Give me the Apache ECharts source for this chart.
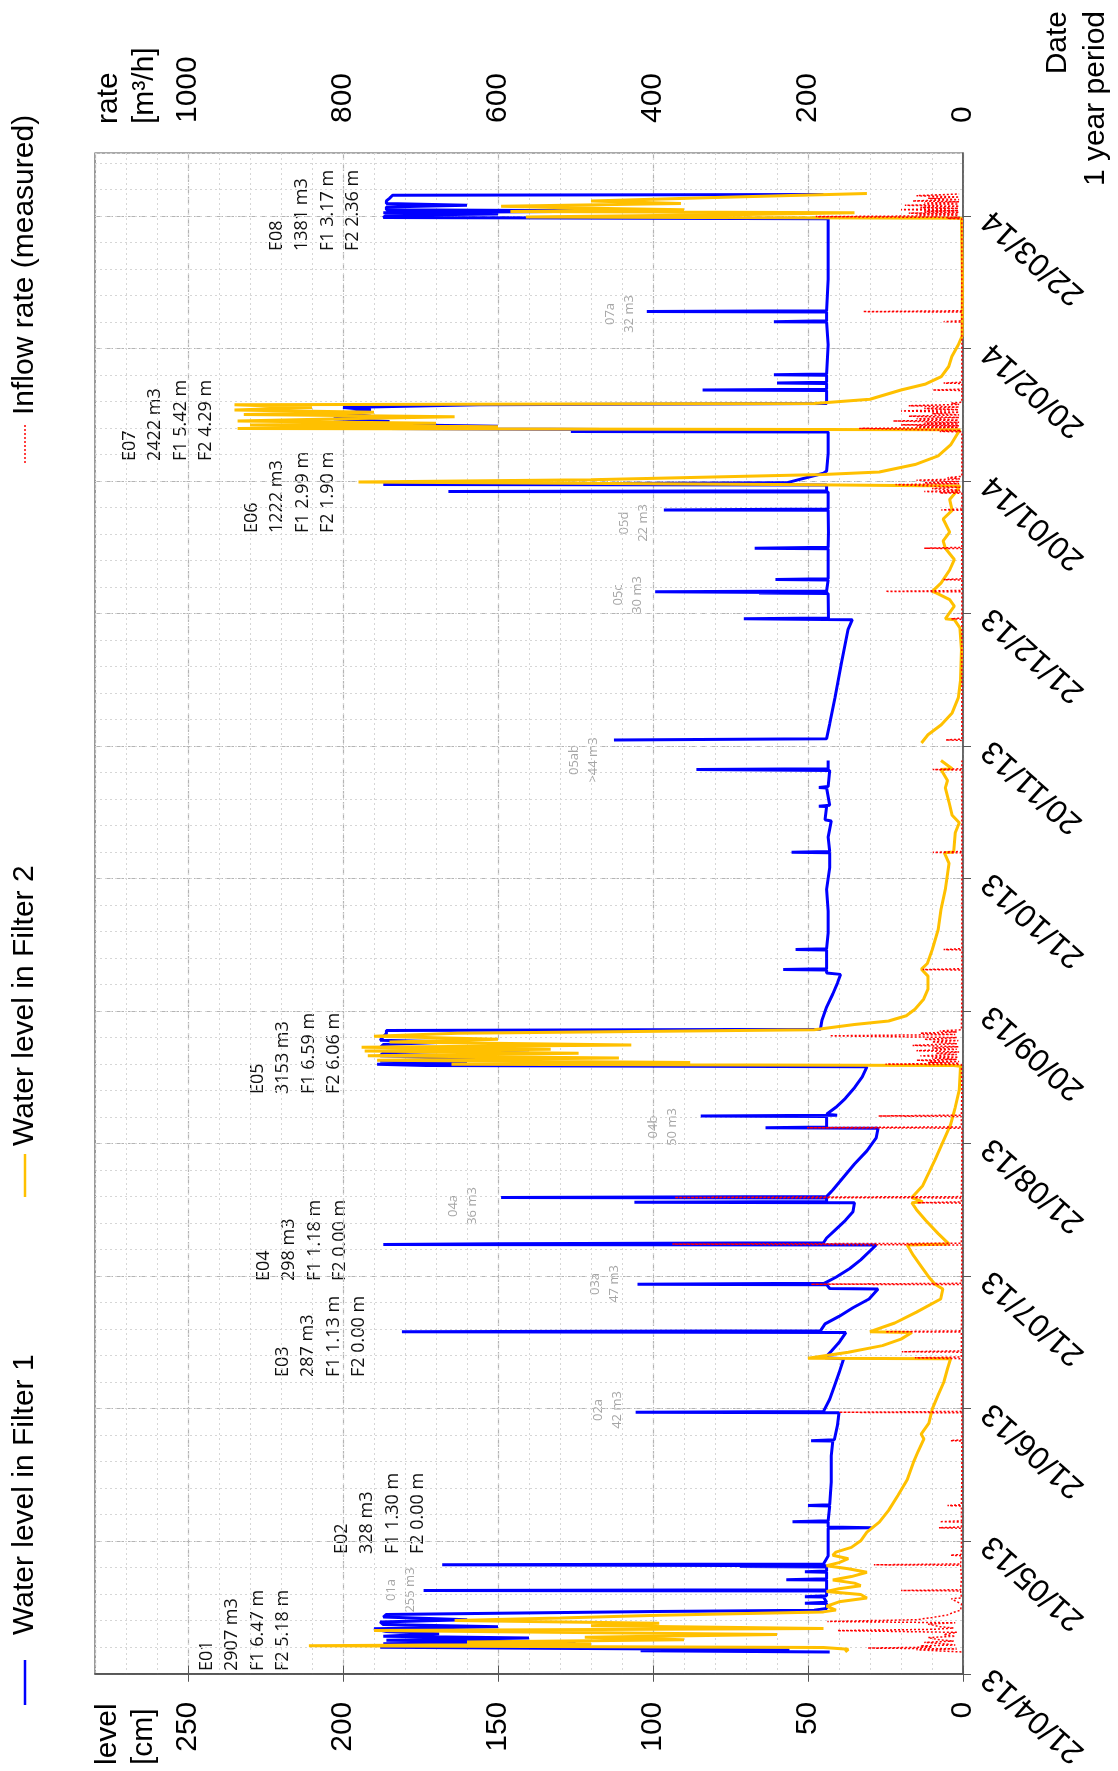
<!DOCTYPE html>
<html>
<head>
<meta charset="utf-8">
<title>Water level in filters</title>
<script src="https://cdn.jsdelivr.net/npm/echarts@6/dist/echarts.min.js"></script>
<style>
  html, body { margin: 0; padding: 0; background: #fff; }
  #chart { width: 1118px; height: 1771px; }
</style>
</head>
<body>
<div id="chart"></div>
<script>
// time in days from 21/04/13, levels in cm, inflow in m3/h
var dateLabels = ['21/04/13', '21/05/13', '21/06/13', '21/07/13', '21/08/13', '20/09/13',
  '21/10/13', '20/11/13', '21/12/13', '20/01/14', '20/02/14', '22/03/14'];
var monthStep = 365 / 12;
var dayMax = 349;

// [day, level]
var f1Level = [
  [5.0,43],[5.3,104],[5.5,56],[6.1,188],[6.5,150],[6.9,187],[7.3,125],[7.7,186],[8.2,140],[8.6,187],
  [9.2,169],[9.7,186],[10.3,190],[10.8,150],[11.3,187],[11.9,188],[12.4,160],[13.0,187],[13.6,186],[14.3,99],
  [14.6,48],[15.0,44],[16.1,44],[16.2,51],[16.4,44],[17.6,45],[17.7,51],[17.9,44],[19.0,44],[19.1,174],
  [19.3,44],[21.5,44],[21.6,57],[21.8,44],[23.3,44],[23.4,51],[23.6,44],[24.5,44],[24.6,72],[24.8,44],
  [25.0,168],[25.2,45],[27.0,43.5],[30.0,43.5],[33.4,43.5],[33.5,29.5],[33.7,43.5],[34.8,43.5],[34.9,55],[35.1,43.5],
  [38.5,43],[38.6,50],[38.8,43],[44,42.5],[50,42.5],[53.4,42],[53.5,49],[53.7,41.5],[57,40.5],[59.9,40],
  [60.0,105.6],[60.2,45],[63,43],[66,41.5],[69,40],[72.3,38.5],[72.5,44.5],[74,42.5],[76,40],[78.3,37.8],
  [78.5,181],[78.7,46],[80.3,44.5],[82,40],[84,35.5],[86,30.3],[88.3,27.4],[88.4,43],[89.3,44],[89.4,105],
  [89.6,44.8],[91,41],[93,36.5],[95,33],[98.4,28],[98.5,187],[98.7,150],[98.9,45],[100,44],[102,41],
  [104,38],[106,35.5],[108.1,35],[108.2,106],[108.4,44],[109.2,44],[109.3,149],[109.5,44],[111,42],[114,38.5],
  [117,35],[120,31],[123,28],[125.2,27.4],[125.3,63.7],[125.5,44],[127.9,44],[128.0,84.6],[128.2,40.6],[128.4,44],
  [130,41],[132,38],[134.5,35],[137,32.5],[139.3,31],[139.6,173],[139.9,189],[140.3,160],[140.6,188],[141.3,150],
  [141.8,188],[142.5,187],[143.2,140],[143.7,188],[144.4,187],[145.0,165],[145.4,188],[146.2,187],[146.9,186],[147.6,186],
  [147.9,46],[150,45.5],[153,44],[156,42],[158.5,40.5],[160.5,39.5],[160.8,44],[161.5,44],[161.6,58],[161.8,44],
  [166.1,44],[166.2,54],[166.4,44],[170,43.5],[175,43.5],[180,44],[185,43],[188.4,43],[188.5,55.3],[188.7,43],
  [192,43.5],[195.7,42.5],[196,44.5],[199,44],[199.1,46.5],[199.3,43],[203.3,44],[203.4,46.5],[203.6,43.5],[207.3,43],
  [207.5,86],[207.7,43.5],[209.6,43.5],[211,null],[214.3,112.6],[214.6,44],[218,43],[224,41.3],[232,39.2],[239.6,37.1],
  [241.9,35.7],[242.1,70.7],[242.3,43.4],[247.9,43.5],[248.0,65.8],[248.1,43.5],[248.3,99.3],[248.5,44],[251.0,43.5],[251.1,60.5],
  [251.3,43.5],[255,43.5],[258.2,43.5],[258.3,67.2],[258.5,43.5],[262,43.4],[267.0,43.5],[267.1,96.5],[267.3,43.5],[271.2,43.5],
  [271.3,166],[271.5,44],[272.8,44],[272.9,187],[273.3,57],[275.5,45],[276,44],[280,43.5],[285.0,43.5],[285.1,126.5],
  [285.3,45],[285.6,45],[285.8,186],[286.3,150],[286.8,200],[287.4,185],[288.0,203],[288.6,191],[289.3,200],[290.0,191],
  [290.6,200],[291.2,156],[291.5,44],[294.5,44],[294.6,84],[294.8,44],[296.1,44],[296.2,60],[296.4,44],[298.0,44],
  [298.1,61],[298.3,44],[305,43.5],[310.2,44],[310.3,61],[310.5,44],[312.5,44],[312.6,102],[312.8,44],[320,43.5],
  [333.9,43.5],[334.2,187],[334.7,186],[335.0,150],[335.3,187],[335.7,109],[336.0,186],[336.6,186],[337.0,160],[337.4,186],
  [338.0,186],[338.6,185],[339.3,184],[339.5,45]
];

var f2Level = [
  [5.0,38],[5.6,37],[6.0,45],[6.4,211],[6.8,120],[7.3,160],[7.8,90],[8.4,122],[9.0,60],[9.9,190],
  [10.4,45],[11.0,120],[11.6,98],[12.2,164],[12.8,130],[13.4,98],[14.2,45],[14.6,41],[15.5,44],[16.5,40],
  [17.4,31],[18.2,33],[18.9,44],[19.5,40],[20.2,33],[20.8,35],[21.5,42],[22.3,36],[23.3,31],[24.1,37],
  [24.8,44],[25.5,40],[26.4,37],[27.2,42],[27.9,41],[29,36],[30.5,33],[32.5,31],[34.8,27],[37.5,24],
  [40.9,21],[44.5,18],[48.5,16],[51,14.5],[53.9,12.6],[55,13.5],[57.5,11],[60.8,9.9],[64,8],[66.9,6.2],
  [70,5],[72.3,4],[72.4,50],[73.8,37],[75.3,26],[76.8,20],[78.3,16.5],[78.5,30],[80.5,22],[83,15],
  [86,7.2],[88.3,6.5],[89.4,9],[91,11],[93.5,13.5],[96,16],[98.4,18],[98.6,4.5],[101,8],[104,12],
  [106.5,15],[108.1,16.5],[108.3,13],[109.3,16.5],[112,13],[115,11],[118,9],[122,6.5],[126,4],[130,2.5],
  [134,1.2],[139.4,0.8],[139.6,3],[139.9,165],[140.3,88],[140.8,189],[141.3,111],[141.8,192],[142.4,124],[142.9,193],
  [143.3,133],[143.8,194],[144.3,107],[145.0,185],[145.6,150],[146.3,190],[147.0,163],[147.8,48],[149,35],[149.8,24],
  [151,18.3],[152.5,15.5],[154.8,12.7],[157.1,11.3],[160.1,11.3],[161.7,13.4],[163,11.5],[166.2,9.9],[170.8,8],[175.4,7.1],
  [180,5.7],[186,4.5],[188.4,6],[188.6,3],[193,2.5],[195.3,1.2],[197,3.5],[200,4.5],[203.3,5.7],[205,5],
  [207.5,7.1],[207.7,3.5],[209.6,7.1],[211,null],[213.6,13.4],[215.5,11.3],[217.8,7],[220.5,3.5],[224,1.5],[228,0.8],
  [235,0.5],[240,1],[241.9,2.8],[242.1,5.7],[243.5,4.3],[245,2.8],[246.5,4.3],[248,8.5],[248.4,9.9],[250.3,7.1],
  [253.3,4.3],[255.7,2.8],[258.3,5.7],[260,6.4],[262,4.3],[265,6.4],[267,3.5],[269.5,4.3],[271,2.5],[272.6,1],
  [272.9,60],[273.5,195],[274.0,120],[275.2,45],[275.8,27],[277.5,15.5],[279.5,8],[282,4],[285.5,1],[285.8,234],
  [286.2,150],[286.6,230],[287.0,170],[287.5,234],[288,200],[288.5,164],[289,232],[289.5,190],[290,235],[290.6,210],
  [291.2,235],[291.5,48],[292.5,30],[294.6,20],[296,12],[297.7,7],[300,4.6],[302.3,3.6],[305,1.5],[307,0.3],
  [320,0.2],[334.0,0.5],[334.3,141],[334.9,70],[335.3,35],[335.6,146],[336.0,90],[336.4,125],[336.8,149],[337.4,91],
  [338.0,120],[338.8,80],[339.7,31]
];

// [day, rate]
var inflowRate = [
  [5.0,2],[5.5,60],[5.7,8],[5.9,123],[6.1,40],[6.4,55],[6.6,10],[6.8,20],[7.2,50],[7.5,12],
  [7.8,30],[8.3,45],[8.6,10],[9.0,25],[9.5,8],[9.9,162],[10.2,37],[10.5,12],[10.8,30],[11.4,45],
  [11.7,10],[12.0,175],[12.4,60],[12.9,40],[13.5,20],[14.1,12],[14.6,3],[16.0,2],[17.2,15],[17.4,2],
  [19.0,3],[19.1,80],[19.3,3],[22,2],[24.9,3],[25.0,115],[25.2,3],[27.1,2],[27.2,16],[27.4,2],
  [33.4,2],[33.5,31],[33.7,2],[34.8,2],[34.9,30],[35.1,2],[38.5,2],[38.6,20],[38.8,2],[45,1.5],
  [53.4,1.5],[53.5,16],[53.7,1.5],[59.9,1.5],[60.0,160],[60.2,2],[66,1.5],[72.3,1.5],[72.5,62],[72.7,2],
  [73.8,2],[73.9,79],[74.1,2],[78.4,2],[78.5,100],[78.7,2],[84,1.5],[89.3,1.5],[89.4,196],[89.6,2],
  [95,1.5],[98.4,1.5],[98.6,375],[98.8,2],[108.0,1.5],[108.1,59],[108.3,2],[109.2,2],[109.3,372],[109.5,2],
  [117,1.5],[125.2,1.5],[125.3,201],[125.5,2],[127.9,2],[128.0,109],[128.2,2],[134,1.5],[139.8,2],[139.9,100],
  [140.1,5],[140.3,45],[140.5,5],[140.8,60],[141.0,8],[141.3,40],[141.5,6],[141.8,55],[142.1,8],[142.4,35],
  [142.7,5],[143.0,60],[143.3,8],[143.6,40],[143.9,6],[144.2,65],[144.6,8],[145.0,40],[145.3,6],[145.6,50],
  [146.0,8],[146.4,172],[146.7,10],[147.0,55],[147.3,8],[147.5,30],[147.8,2],[155,1.5],[161.5,1.5],[161.6,52],
  [161.8,1.5],[166.1,1.5],[166.2,25],[166.4,1.5],[177,1.5],[188.4,1.5],[188.5,39],[188.7,1.5],[198,1.5],[207.4,1.5],
  [207.5,39],[207.7,1.5],[209.6,1.5],[211,null],[214.2,1.5],[214.3,22],[214.5,1.5],[228,1.5],[242.0,1.5],[242.1,15],
  [242.3,1.5],[248.3,1.5],[248.4,100],[248.6,1.5],[251.0,1.5],[251.1,25],[251.3,1.5],[258.2,1.5],[258.3,50],[258.5,1.5],
  [263,1.5],[267.0,1.5],[267.1,28],[267.3,1.5],[270.9,1.5],[271.0,30],[271.2,3],[271.3,50],[271.6,4],[272.0,40],
  [272.3,4],[272.9,87],[273.1,5],[273.3,50],[273.6,5],[273.9,60],[274.2,4],[274.5,20],[274.8,1.5],[280,1.5],
  [285.0,1.5],[285.1,30],[285.3,3],[285.8,134],[286.0,6],[286.2,60],[286.4,5],[286.6,80],[286.8,6],[287.0,50],
  [287.2,5],[287.5,90],[287.7,6],[288.0,60],[288.3,5],[288.6,70],[288.9,5],[289.2,40],[289.5,5],[289.8,80],
  [290.1,6],[290.4,50],[290.7,5],[291.0,70],[291.3,5],[291.6,15],[291.8,1.5],[294.5,1.5],[294.6,39],[294.8,1.5],
  [296.1,1.5],[296.2,25],[296.4,1.5],[303,1.5],[310.2,1.5],[310.3,25],[310.5,1.5],[312.5,1.5],[312.6,129],[312.8,1.5],
  [322,1.5],[333.9,1.5],[334.0,20],[334.2,4],[334.4,190],[334.6,6],[334.8,60],[335.0,6],[335.2,70],[335.4,5],
  [335.6,50],[335.8,6],[336.0,80],[336.3,6],[336.5,55],[336.8,5],[337.0,75],[337.3,6],[337.5,50],[337.8,5],
  [338.0,65],[338.3,5],[338.6,45],[338.9,5],[339.2,60],[339.6,5]
];

// event notes (black) and small event notes (grey), pixel anchors
var eventNotes = [
  { text: 'E01\n2907 m3\nF1 6.47 m\nF2 5.18 m', x: 245, y: 1671 },
  { text: 'E02\n328 m3\nF1 1.30 m\nF2 0.00 m', x: 380, y: 1554 },
  { text: 'E03\n287 m3\nF1 1.13 m\nF2 0.00 m', x: 321, y: 1377 },
  { text: 'E04\n298 m3\nF1 1.18 m\nF2 0.00 m', x: 302, y: 1281 },
  { text: 'E05\n3153 m3\nF1 6.59 m\nF2 6.06 m', x: 296, y: 1094 },
  { text: 'E06\n1222 m3\nF1 2.99 m\nF2 1.90 m', x: 290, y: 533 },
  { text: 'E07\n2422 m3\nF1 5.42 m\nF2 4.29 m', x: 168, y: 461 },
  { text: 'E08\n1381 m3\nF1 3.17 m\nF2 2.36 m', x: 315, y: 251 }
];
var smallNotes = [
  { text: '01a\n255 m3', x: 401, y: 1590 },
  { text: '02a\n42 m3', x: 608, y: 1410 },
  { text: '03a\n47 m3', x: 605, y: 1284 },
  { text: '04a\n36 m3', x: 463, y: 1206 },
  { text: '04b\n50 m3', x: 663, y: 1127 },
  { text: '05ab\n>44 m3', x: 584, y: 760 },
  { text: '05c\n30 m3', x: 628, y: 595 },
  { text: '05d\n22 m3', x: 634, y: 523 },
  { text: '07a\n32 m3', x: 620, y: 314 }
];

function flip(arr) {
  return arr.map(function (p) { return [p[1], p[0]]; });
}

function rotText(t, x, y, size, color, family, align, lh) {
  return {
    type: 'text', x: x, y: y, rotation: Math.PI / 2, silent: true,
    style: {
      text: t, fill: color, fontSize: size, fontFamily: family,
      textAlign: align, textVerticalAlign: 'middle', lineHeight: lh
    }
  };
}

var chart = echarts.init(document.getElementById('chart'));

var graphics = [];
// legend
graphics.push({ type: 'line', silent: true, shape: { x1: 25, y1: 1705, x2: 25, y2: 1660 }, style: { stroke: '#0000ff', lineWidth: 2.5 } });
graphics.push(rotText('Water level in Filter 1', 25, 1635, 30, '#000', 'Liberation Sans', 'left', 34));
graphics.push({ type: 'line', silent: true, shape: { x1: 25, y1: 1197, x2: 25, y2: 1154 }, style: { stroke: '#ffc000', lineWidth: 2.5 } });
graphics.push(rotText('Water level in Filter 2', 25, 1146, 30, '#000', 'Liberation Sans', 'left', 34));
graphics.push({ type: 'line', silent: true, shape: { x1: 25, y1: 463, x2: 25, y2: 423 }, style: { stroke: '#ff0000', lineWidth: 1.5, lineDash: [2, 2] } });
graphics.push(rotText('Inflow rate (measured)', 25, 415, 30, '#000', 'Liberation Sans', 'left', 34));
// axis names
graphics.push(rotText('level\n[cm]', 126, 1765, 30, '#000', 'Liberation Sans', 'left', 36));
graphics.push(rotText('rate\n[m³/h]', 127, 124, 30, '#000', 'Liberation Sans', 'left', 36));
graphics.push(rotText('Date\n1 year period', 1077, 11, 30, '#000', 'Liberation Sans', 'right', 38));
eventNotes.forEach(function (n) {
  graphics.push(rotText(n.text, n.x, n.y, 18, '#111', 'Open Sans', 'left', 25.5));
});
smallNotes.forEach(function (n) {
  graphics.push(rotText(n.text, n.x, n.y, 13, '#a6a6a6', 'Open Sans', 'center', 19.5));
});

function plainNumber(v) {
  return String(v);
}

var option = {
  animation: false,
  backgroundColor: '#fff',
  grid: { left: 95, right: 155, top: 153, bottom: 96, show: true, borderColor: '#555', borderWidth: 1.2 },
  xAxis: [
    {
      type: 'value', position: 'bottom', inverse: true, min: 0, max: 280, interval: 50,
      axisLine: { show: true, lineStyle: { color: '#555', width: 1.5 } },
      axisTick: { show: true, length: 8, lineStyle: { color: '#555' } },
      axisLabel: { rotate: 90, margin: 28, fontSize: 30, color: '#000', fontFamily: 'Liberation Sans', showMaxLabel: false, formatter: plainNumber },
      splitLine: { show: true, lineStyle: { type: [7, 4], color: '#b4b4b4', width: 1.2 } }
    },
    {
      type: 'value', position: 'top', inverse: true, min: 0, max: 1120, interval: 200,
      axisLine: { show: true, lineStyle: { color: '#555', width: 1.5 } },
      axisTick: { show: true, length: 8, lineStyle: { color: '#555' } },
      axisLabel: { rotate: 90, margin: 30, fontSize: 30, color: '#000', fontFamily: 'Liberation Sans', showMaxLabel: false, formatter: plainNumber },
      splitLine: { show: false }
    },
    {
      type: 'value', position: 'bottom', inverse: true, min: 0, max: 280, interval: 10,
      axisLine: { show: false }, axisTick: { show: false }, axisLabel: { show: false },
      splitLine: { show: true, lineStyle: { type: [2, 3], color: '#d6d6d6', width: 1 } }
    }
  ],
  yAxis: [
    {
      type: 'value', position: 'right', min: 0, max: dayMax, interval: monthStep,
      axisLine: { show: true, lineStyle: { color: '#555', width: 1.5 } },
      axisTick: { show: true, length: 8, lineStyle: { color: '#555' } },
      axisLabel: {
        rotate: 138, margin: 24, fontSize: 32, color: '#000', fontFamily: 'Liberation Sans',
        showMaxLabel: false,
        formatter: function (v) {
          var i = Math.round(v / monthStep);
          return Math.abs(v - i * monthStep) < 0.3 && dateLabels[i] ? dateLabels[i] : '';
        }
      },
      splitLine: { show: true, lineStyle: { type: [7, 4], color: '#b4b4b4', width: 1.2 } }
    },
    {
      type: 'value', position: 'right', min: 0, max: dayMax, interval: monthStep / 5,
      axisLine: { show: false }, axisTick: { show: false }, axisLabel: { show: false },
      splitLine: { show: true, lineStyle: { type: [2, 3], color: '#d6d6d6', width: 1 } }
    }
  ],
  graphic: graphics,
  series: [
    {
      name: 'Water level in Filter 1', type: 'line', xAxisIndex: 0, yAxisIndex: 0,
      data: flip(f1Level), showSymbol: false, connectNulls: false,
      lineStyle: { color: '#0000ff', width: 3 }, z: 3
    },
    {
      name: 'Water level in Filter 2', type: 'line', xAxisIndex: 0, yAxisIndex: 0,
      data: flip(f2Level), showSymbol: false, connectNulls: false,
      lineStyle: { color: '#ffc000', width: 3 }, z: 4
    },
    {
      name: 'Inflow rate (measured)', type: 'line', xAxisIndex: 1, yAxisIndex: 0,
      data: flip(inflowRate), showSymbol: false, connectNulls: false,
      lineStyle: { color: '#ff0000', width: 1.5, type: [2, 2] }, z: 5
    }
  ]
};

chart.setOption(option);
</script>
</body>
</html>
